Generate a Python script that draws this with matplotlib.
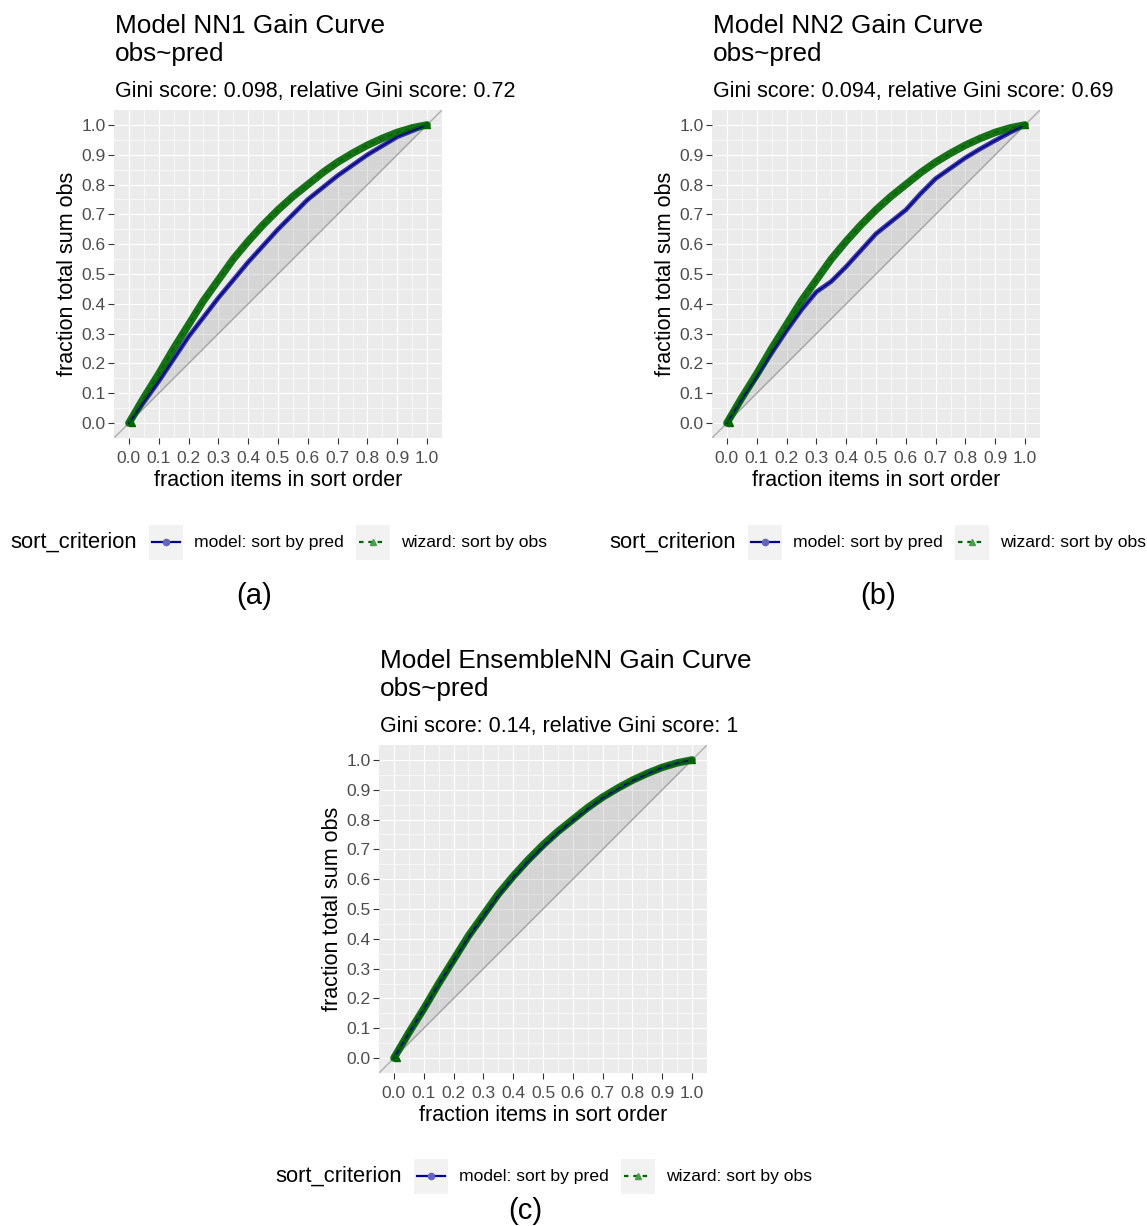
#!/usr/bin/env python3
"""Three gain-curve panels (NN1, NN2, EnsembleNN) in ggplot-like style."""

import matplotlib as mpl
mpl.use("Agg")
import matplotlib.pyplot as plt
from matplotlib.lines import Line2D
from matplotlib.patches import Rectangle

plt.rcParams["font.family"] = ["Liberation Sans", "DejaVu Sans"]

W, H = 1147, 1226

# fraction of items, sampled every 0.05
x_frac = [0.0, 0.05, 0.1, 0.15, 0.2, 0.25, 0.3, 0.35, 0.4, 0.45, 0.5,
          0.55, 0.6, 0.65, 0.7, 0.75, 0.8, 0.85, 0.9, 0.95, 1.0]

# wizard curve (sort by obs) is the same for all three models
wizard_y = [0.0, 0.085, 0.165, 0.25, 0.33, 0.41, 0.48, 0.55, 0.61, 0.665, 0.715,
            0.76, 0.80, 0.84, 0.875, 0.905, 0.932, 0.955, 0.975, 0.99, 1.0]

nn1_y = [0.0, 0.07, 0.14, 0.215, 0.29, 0.355, 0.42, 0.48, 0.54, 0.595, 0.65,
         0.70, 0.75, 0.79, 0.83, 0.865, 0.90, 0.93, 0.96, 0.98, 1.0]

nn2_y = [0.0, 0.08, 0.155, 0.235, 0.31, 0.38, 0.44, 0.475, 0.525, 0.58, 0.635,
         0.675, 0.715, 0.77, 0.82, 0.855, 0.89, 0.92, 0.948, 0.975, 1.0]

ens_y = [0.0, 0.083, 0.163, 0.247, 0.327, 0.405, 0.476, 0.545, 0.606, 0.66, 0.71,
         0.756, 0.797, 0.836, 0.872, 0.902, 0.93, 0.953, 0.974, 0.989, 1.0]

model_names = ["NN1", "NN2", "EnsembleNN"]
gini_scores = ["0.098", "0.094", "0.14"]
rel_gini = ["0.72", "0.69", "1"]
panel_tags = ["(a)", "(b)", "(c)"]
tick_vals = [0.0, 0.1, 0.2, 0.3, 0.4, 0.5, 0.6, 0.7, 0.8, 0.9, 1.0]
tick_labels = ["0.0", "0.1", "0.2", "0.3", "0.4", "0.5", "0.6", "0.7", "0.8", "0.9", "1.0"]
minor_vals = [0.05, 0.15, 0.25, 0.35, 0.45, 0.55, 0.65, 0.75, 0.85, 0.95]

BLUE = "#00008B"
GREEN = "#006400"


def fx(px):
    return px / W


def fy(py):
    return 1 - py / H


def draw_panel(fig, left_px, top_px, model_y, idx):
    size = 328
    ax = fig.add_axes([fx(left_px), fy(top_px + size), size / W, size / H])
    ax.set_facecolor("#EBEBEB")
    for s in ax.spines.values():
        s.set_visible(False)
    ax.set_xlim(-0.05, 1.05)
    ax.set_ylim(-0.05, 1.05)
    ax.set_xticks(tick_vals)
    ax.set_xticklabels(tick_labels)
    ax.set_yticks(tick_vals)
    ax.set_yticklabels(tick_labels)
    ax.set_xticks(minor_vals, minor=True)
    ax.set_yticks(minor_vals, minor=True)
    ax.grid(which="major", color="white", lw=0.85)
    ax.grid(which="minor", color="white", lw=0.45)
    ax.set_axisbelow(True)
    ax.tick_params(which="major", length=4, width=0.8, color="#333333",
                   labelcolor="#4D4D4D", labelsize=12.5)
    ax.tick_params(axis="x", pad=5.5)
    ax.tick_params(axis="y", pad=2.2)
    ax.tick_params(which="minor", length=0)

    ax.axline((0, 0), (1, 1), color="#ADADAD", lw=1.0, zorder=1)
    ax.fill_between(x_frac, x_frac, model_y, color="grey", alpha=0.2, lw=0, zorder=1.5)

    # thick point bands, then thin lines on top
    ax.plot(x_frac, model_y, color=BLUE, lw=3.4, alpha=0.75, solid_capstyle="round", zorder=2)
    ax.plot(x_frac, wizard_y, color=GREEN, lw=5.4, alpha=0.9, solid_capstyle="round", zorder=3)
    ax.plot(x_frac, model_y, color=BLUE, lw=1.1, zorder=4)
    ax.plot(x_frac, wizard_y, color=GREEN, lw=1.1, ls=(0, (3, 3)), zorder=5)
    ax.plot([x_frac[0] + 0.01, x_frac[-1]], [wizard_y[0], wizard_y[-1]], ls="none",
            marker="^", ms=5, color=GREEN, zorder=5)

    ax.set_xlabel("fraction items in sort order", fontsize=15.5, labelpad=2.5)
    ax.set_ylabel("fraction total sum obs", fontsize=15.5, labelpad=2)

    fig.text(fx(left_px + 1), fy(top_px - 77), f"Model {model_names[idx]} Gain Curve",
             fontsize=18.8, va="baseline", ha="left")
    fig.text(fx(left_px + 1), fy(top_px - 49), "obs~pred",
             fontsize=18.8, va="baseline", ha="left")
    fig.text(fx(left_px + 1), fy(top_px - 13),
             f"Gini score: {gini_scores[idx]}, relative Gini score: {rel_gini[idx]}",
             fontsize=15.5, va="baseline", ha="left")
    return ax


def draw_legend(fig, x0, yc):
    fig.text(fx(x0), fy(yc), "sort_criterion", fontsize=15.8, va="center", ha="left")
    keys = [(139, "model: sort by pred", BLUE, "-", "o", "#6464C0"),
            (346, "wizard: sort by obs", GREEN, (0, (2, 2.2)), "^", "#4C9A4C")]
    for kx, lab, col, ls, mk, mcol in keys:
        fig.add_artist(Rectangle((fx(x0 + kx), fy(yc + 17.5)), 34 / W, 35 / H,
                                 transform=fig.transFigure, facecolor="#F2F2F2",
                                 edgecolor="none"))
        fig.add_artist(Line2D([fx(x0 + kx + 3), fx(x0 + kx + 31)], [fy(yc), fy(yc)],
                              transform=fig.transFigure, color=col, lw=1.6, ls=ls))
        fig.add_artist(Line2D([fx(x0 + kx + 17)], [fy(yc)], transform=fig.transFigure,
                              ls="none", marker=mk, ms=4.5, color=mcol))
        fig.text(fx(x0 + kx + 45), fy(yc), lab, fontsize=12.6, va="center", ha="left")


fig = plt.figure(figsize=(W / 100, H / 100), dpi=100)
fig.patch.set_facecolor("white")

draw_panel(fig, 114, 110, nn1_y, 0)
draw_panel(fig, 712, 110, nn2_y, 1)
draw_panel(fig, 379, 745, ens_y, 2)

draw_legend(fig, 10, 542)
draw_legend(fig, 609, 542)
draw_legend(fig, 275, 1176)

fig.text(fx(254), fy(596), panel_tags[0], fontsize=21, ha="center", va="center")
fig.text(fx(878), fy(596), panel_tags[1], fontsize=21, ha="center", va="center")
fig.text(fx(525), fy(1211), panel_tags[2], fontsize=21, ha="center", va="center")

fig.savefig("out.png", dpi=100)
